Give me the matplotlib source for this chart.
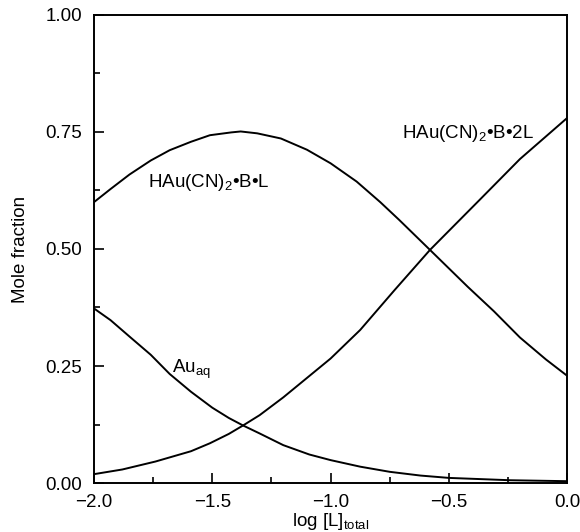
import matplotlib
matplotlib.use("Agg")
import matplotlib.pyplot as plt
from matplotlib.ticker import MultipleLocator

# values
x_bl = [-2.0, -1.93, -1.85, -1.76, -1.68, -1.59, -1.51, -1.42, -1.38, -1.31, -1.21,
        -1.10, -1.0, -0.89, -0.79, -0.71, -0.58, -0.42, -0.31, -0.20, -0.09, 0.0]
y_bl = [0.600, 0.628, 0.659, 0.689, 0.711, 0.729, 0.743, 0.749, 0.751, 0.747, 0.736,
        0.712, 0.683, 0.644, 0.600, 0.562, 0.498, 0.419, 0.367, 0.311, 0.264, 0.229]

x_2l = [-2.0, -1.88, -1.74, -1.59, -1.51, -1.43, -1.37, -1.30, -1.20, -1.0, -0.875,
        -0.73, -0.58, -0.37, -0.20, 0.0]
y_2l = [0.019, 0.029, 0.046, 0.068, 0.085, 0.105, 0.123, 0.145, 0.183, 0.266, 0.327,
        0.412, 0.498, 0.605, 0.692, 0.780]

x_au = [-2.0, -1.93, -1.85, -1.76, -1.68, -1.59, -1.50, -1.43, -1.37, -1.30, -1.20,
        -1.09, -1.0, -0.875, -0.75, -0.62, -0.50, -0.24, 0.0]
y_au = [0.373, 0.348, 0.313, 0.274, 0.233, 0.195, 0.161, 0.139, 0.123, 0.106, 0.081,
        0.061, 0.049, 0.035, 0.024, 0.016, 0.011, 0.006, 0.004]

x_ticks = [-2.0, -1.5, -1.0, -0.5, 0.0]
x_ticklabels = ["\u22122.0", "\u22121.5", "\u22121.0", "\u22120.5", "0.0"]
y_ticks = [0.0, 0.25, 0.5, 0.75, 1.0]
y_ticklabels = ["0.00", "0.25", "0.50", "0.75", "1.00"]

plt.rcParams["font.family"] = ["Liberation Sans", "DejaVu Sans"]
plt.rcParams["mathtext.fontset"] = "custom"
plt.rcParams["mathtext.rm"] = "Liberation Sans"
plt.rcParams["mathtext.it"] = "Liberation Sans"

FS = 13.5

fig = plt.figure(figsize=(5.8, 5.32), dpi=100)
ax = fig.add_axes([0.162, 0.092, 0.816, 0.880])

for xs, ys in [(x_bl, y_bl), (x_2l, y_2l), (x_au, y_au)]:
    ax.plot(xs, ys, color="black", linewidth=1.4)

ax.set_xlim(-2.0, 0.0)
ax.set_ylim(0.0, 1.0)
ax.set_xticks(x_ticks)
ax.set_xticklabels(x_ticklabels)
ax.set_yticks(y_ticks)
ax.set_yticklabels(y_ticklabels)
ax.xaxis.set_minor_locator(MultipleLocator(0.25))
ax.yaxis.set_minor_locator(MultipleLocator(0.125))
ax.tick_params(which="both", direction="in", top=False, right=False,
               labelsize=FS, width=1.2)
ax.tick_params(axis="y", pad=8.5)
ax.tick_params(axis="x", pad=8)
ax.tick_params(which="major", length=7)
ax.tick_params(which="minor", length=4)
for spine in ax.spines.values():
    spine.set_linewidth(1.4)

ax.text(-1.772, 0.632, r"HAu(CN)$_2$•B•L", fontsize=FS, va="baseline")
ax.text(-0.699, 0.737, r"HAu(CN)$_2$•B•2L", fontsize=FS, va="baseline")
ax.text(-1.671, 0.236, r"Au$_{\rm aq}$", fontsize=FS, va="baseline")

ax.set_ylabel("Mole fraction", fontsize=FS, labelpad=12)
ax.set_xlabel(r"log [L]$_{\rm total}$", fontsize=FS, labelpad=0)

fig.savefig("out.png", dpi=100)
